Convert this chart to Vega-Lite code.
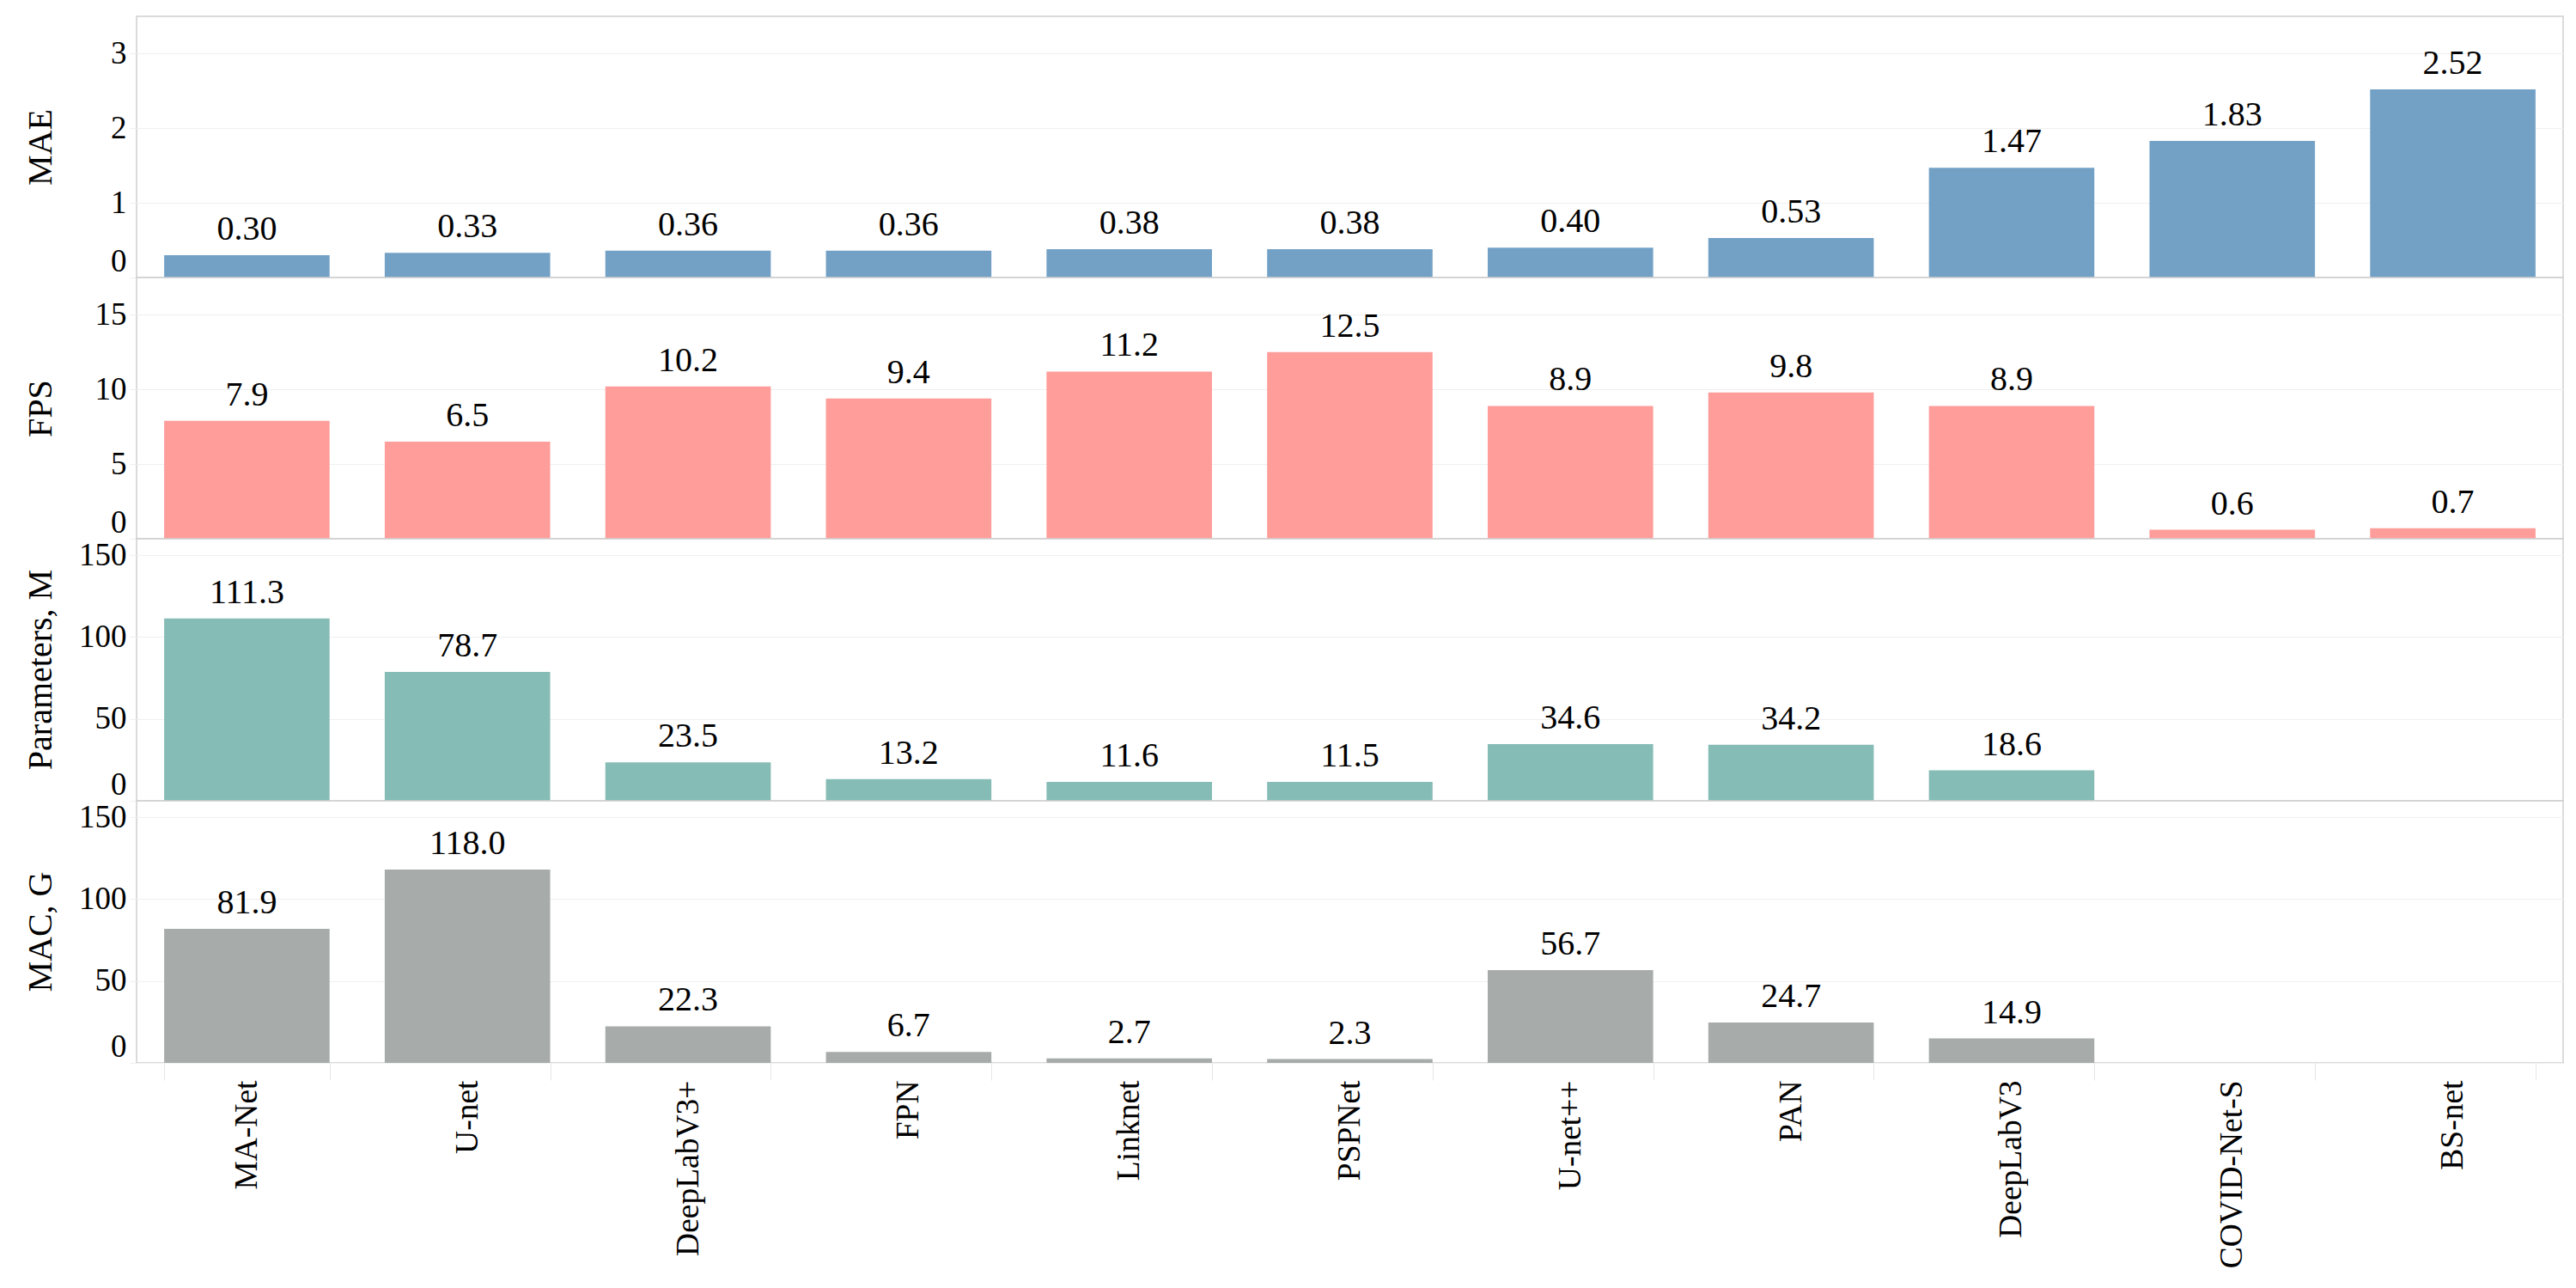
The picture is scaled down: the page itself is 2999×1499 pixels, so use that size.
{
  "$schema": "https://vega.github.io/schema/vega-lite/v6.json",
  "padding": {"left": 26, "top": 18, "right": 18, "bottom": 5},
  "background": "white",
  "bounds": "flush",
  "config": {
    "font": "Liberation Serif",
    "view": {"stroke": "#CFCFCF", "strokeWidth": 1.5},
    "concat": {"spacing": 0},
    "axis": {"labelFont": "Liberation Serif", "titleFont": "Liberation Serif", "labelColor": "black", "titleColor": "black", "titleFontWeight": "normal"}
  },
  "data": {"values": [
    {"model": "MA-Net", "MAE": 0.30, "FPS": 7.9, "Params": 111.3, "MAC": 81.9},
    {"model": "U-net", "MAE": 0.33, "FPS": 6.5, "Params": 78.7, "MAC": 118.0},
    {"model": "DeepLabV3+", "MAE": 0.36, "FPS": 10.2, "Params": 23.5, "MAC": 22.3},
    {"model": "FPN", "MAE": 0.36, "FPS": 9.4, "Params": 13.2, "MAC": 6.7},
    {"model": "Linknet", "MAE": 0.38, "FPS": 11.2, "Params": 11.6, "MAC": 2.7},
    {"model": "PSPNet", "MAE": 0.38, "FPS": 12.5, "Params": 11.5, "MAC": 2.3},
    {"model": "U-net++", "MAE": 0.40, "FPS": 8.9, "Params": 34.6, "MAC": 56.7},
    {"model": "PAN", "MAE": 0.53, "FPS": 9.8, "Params": 34.2, "MAC": 24.7},
    {"model": "DeepLabV3", "MAE": 1.47, "FPS": 8.9, "Params": 18.6, "MAC": 14.9},
    {"model": "COVID-Net-S", "MAE": 1.83, "FPS": 0.6, "Params": null, "MAC": null},
    {"model": "BS-net", "MAE": 2.52, "FPS": 0.7, "Params": null, "MAC": null}
  ]},
  "spacing": 0,
  "vconcat": [
    {
      "width": 2825, "height": 304,
      "transform": [{"filter": "isValid(datum.MAE)"}],
      "encoding": {
        "x": {"field": "model", "type": "nominal", "sort": null, "axis": null,
              "scale": {"domain": ["MA-Net","U-net","DeepLabV3+","FPN","Linknet","PSPNet","U-net++","PAN","DeepLabV3","COVID-Net-S","BS-net"], "paddingInner": 0.25, "paddingOuter": 0.125}},
        "y": {"field": "MAE", "type": "quantitative", "scale": {"domain": [0, 3.5], "nice": false},
              "axis": {"title": "MAE", "values": [0,1,2,3], "grid": true, "gridColor": "#EFEFEF", "tickColor": "#EFEFEF", "tickSize": 8, "domain": false, "labelFontSize": 37, "labelPadding": 4, "labelFlush": true, "titleFontSize": 40, "titleAngle": 270, "titleBaseline": "top", "titleX": -132, "titleY": 152}}
      },
      "layer": [
        {"mark": {"type": "bar", "color": "#73A1C6"}},
        {"mark": {"type": "text", "baseline": "bottom", "dy": -10, "fontSize": 40, "font": "Liberation Serif", "color": "black"},
         "encoding": {"text": {"field": "MAE", "type": "quantitative", "format": ".2f"}}}
      ]
    },
    {
      "width": 2825, "height": 304,
      "transform": [{"filter": "isValid(datum.FPS)"}],
      "encoding": {
        "x": {"field": "model", "type": "nominal", "sort": null, "axis": null,
              "scale": {"domain": ["MA-Net","U-net","DeepLabV3+","FPN","Linknet","PSPNet","U-net++","PAN","DeepLabV3","COVID-Net-S","BS-net"], "paddingInner": 0.25, "paddingOuter": 0.125}},
        "y": {"field": "FPS", "type": "quantitative", "scale": {"domain": [0, 17.5], "nice": false},
              "axis": {"title": "FPS", "values": [0,5,10,15], "grid": true, "gridColor": "#EFEFEF", "tickColor": "#EFEFEF", "tickSize": 8, "domain": false, "labelFontSize": 37, "labelPadding": 4, "labelFlush": true, "titleFontSize": 40, "titleAngle": 270, "titleBaseline": "top", "titleX": -132, "titleY": 152}}
      },
      "layer": [
        {"mark": {"type": "bar", "color": "#FF9D9A"}},
        {"mark": {"type": "text", "baseline": "bottom", "dy": -10, "fontSize": 40, "font": "Liberation Serif", "color": "black"},
         "encoding": {"text": {"field": "FPS", "type": "quantitative", "format": ".1f"}}}
      ]
    },
    {
      "width": 2825, "height": 305,
      "transform": [{"filter": "isValid(datum.Params)"}],
      "encoding": {
        "x": {"field": "model", "type": "nominal", "sort": null, "axis": null,
              "scale": {"domain": ["MA-Net","U-net","DeepLabV3+","FPN","Linknet","PSPNet","U-net++","PAN","DeepLabV3","COVID-Net-S","BS-net"], "paddingInner": 0.25, "paddingOuter": 0.125}},
        "y": {"field": "Params", "type": "quantitative", "scale": {"domain": [0, 160], "nice": false},
              "axis": {"title": "Parameters, M", "values": [0,50,100,150], "grid": true, "gridColor": "#EFEFEF", "tickColor": "#EFEFEF", "tickSize": 8, "domain": false, "labelFontSize": 37, "labelPadding": 4, "labelFlush": true, "titleFontSize": 40, "titleAngle": 270, "titleBaseline": "top", "titleX": -132, "titleY": 152}}
      },
      "layer": [
        {"mark": {"type": "bar", "color": "#86BCB6"}},
        {"mark": {"type": "text", "baseline": "bottom", "dy": -10, "fontSize": 40, "font": "Liberation Serif", "color": "black"},
         "encoding": {"text": {"field": "Params", "type": "quantitative", "format": ".1f"}}}
      ]
    },
    {
      "width": 2825, "height": 305,
      "transform": [{"filter": "isValid(datum.MAC)"}],
      "encoding": {
        "x": {"field": "model", "type": "nominal", "sort": null,
              "scale": {"domain": ["MA-Net","U-net","DeepLabV3+","FPN","Linknet","PSPNet","U-net++","PAN","DeepLabV3","COVID-Net-S","BS-net"], "paddingInner": 0.25, "paddingOuter": 0.125},
              "axis": {"title": null, "labelAngle": -90, "labelAlign": "right", "labelBaseline": "middle", "labelFontSize": 37.5, "labelLimit": 0, "tickBand": "extent", "tickSize": 20, "tickColor": "#E6E6E6", "domain": false, "labelPadding": 0}},
        "y": {"field": "MAC", "type": "quantitative", "scale": {"domain": [0, 160], "nice": false},
              "axis": {"title": "MAC, G", "values": [0,50,100,150], "grid": true, "gridColor": "#EFEFEF", "tickColor": "#EFEFEF", "tickSize": 8, "domain": false, "labelFontSize": 37, "labelPadding": 4, "labelFlush": true, "titleFontSize": 40, "titleAngle": 270, "titleBaseline": "top", "titleX": -132, "titleY": 152}}
      },
      "layer": [
        {"mark": {"type": "bar", "color": "#A7ACAB"}},
        {"mark": {"type": "text", "baseline": "bottom", "dy": -10, "fontSize": 40, "font": "Liberation Serif", "color": "black"},
         "encoding": {"text": {"field": "MAC", "type": "quantitative", "format": ".1f"}}}
      ]
    }
  ]
}
